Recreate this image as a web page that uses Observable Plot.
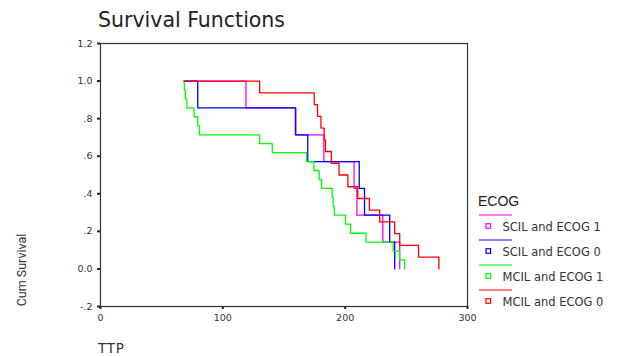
<!DOCTYPE html>
<html>
<head>
<meta charset="utf-8">
<script src="https://cdn.jsdelivr.net/npm/d3@7"></script>
<script src="https://cdn.jsdelivr.net/npm/@observablehq/plot@0.6"></script>
<style>
  html, body { margin: 0; padding: 0; background: #fff; }
  #chart { width: 618px; height: 356px; position: relative; }
</style>
</head>
<body>
<div id="chart"></div>
<script>
// ---- data ----
const seriesNames = ["SCIL and ECOG 1", "SCIL and ECOG 0", "MCIL and ECOG 1", "MCIL and ECOG 0"];
const seriesColors = ["#ff00ff", "#0000ff", "#00ff00", "#ff0000"];

const scil1Times = [68.3, 118.9, 159.2, 182.6, 207.3, 209.6, 230.8, 244.6];
const scil1Surv  = [1, 0.857, 0.714, 0.571, 0.429, 0.286, 0.143, 0];

const scil0Times = [68.3, 79.5, 159.6, 169.4, 211.5, 215.8, 236.4, 240.5];
const scil0Surv  = [1, 0.857, 0.714, 0.571, 0.429, 0.286, 0.143, 0];

const mcil1Times = [68.3, 68.5, 69.4, 70.6, 76.5, 79.5, 80.9, 130.1, 140.4, 168.4, 174.4, 178.7, 180.7, 189.4, 190.2, 191.1, 200.3, 204.4, 217.0, 239.2, 244.5, 248.6];
const mcil1Surv  = [1, 0.952, 0.905, 0.857, 0.810, 0.762, 0.714, 0.667, 0.619, 0.571, 0.524, 0.476, 0.429, 0.381, 0.333, 0.286, 0.238, 0.190, 0.143, 0.095, 0.048, 0];

const mcil0Times = [68.3, 130.1, 174.7, 177.4, 180.2, 182.8, 183.9, 188.7, 195.0, 202.2, 210.3, 219.8, 228.2, 240.5, 244.6, 260.0, 276.6];
const mcil0Surv  = [1, 0.9375, 0.875, 0.8125, 0.75, 0.6875, 0.625, 0.5625, 0.5, 0.4375, 0.375, 0.3125, 0.25, 0.1875, 0.125, 0.0625, 0];

const xTicks = [0, 100, 200, 300];
const yTicks = [-0.2, 0, 0.2, 0.4, 0.6, 0.8, 1.0, 1.2];
const yTickLabels = ["-.2", "0.0", ".2", ".4", ".6", ".8", "1.0", "1.2"];

const titleText = "Survival Functions";
const xLabel = "TTP";
const yLabel = "Cum Survival";
const legendTitle = "ECOG";

// ---- build table ----
const allTimes = [scil1Times, scil0Times, mcil1Times, mcil0Times];
const allSurv = [scil1Surv, scil0Surv, mcil1Surv, mcil0Surv];
const rows = seriesNames.flatMap((name, i) =>
  allTimes[i].map((t, j) => ({name, t, s: allSurv[i][j]}))
);

const W = 618, H = 356;
const chart = Plot.plot({
  width: W,
  height: H,
  marginLeft: 100,
  marginRight: 151,
  marginTop: 43,
  marginBottom: 50,
  style: {fontFamily: "DejaVu Sans", fontSize: "9.5px", color: "#333", background: "#fff"},
  x: {domain: [0, 300], label: null},
  y: {domain: [-0.2, 1.2], label: null},
  color: {domain: seriesNames, range: seriesColors},
  marks: [
    Plot.frame({stroke: "#333", strokeWidth: 1.2}),
    Plot.axisX({ticks: xTicks, tickSize: 3, tickPadding: 5, strokeWidth: 2, stroke: "#222", label: null, tickFormat: d => String(d)}),
    Plot.axisY({ticks: yTicks, tickSize: 3, tickPadding: 5, strokeWidth: 2, stroke: "#222", label: null,
      tickFormat: d => yTickLabels[yTicks.findIndex(v => Math.abs(v - d) < 1e-9)]}),
    Plot.line(rows, {x: "t", y: "s", z: "name", stroke: "name", curve: "step-after", strokeWidth: 1.3})
  ]
});
document.getElementById("chart").appendChild(chart);

// ---- titles & legend ----
const svg = d3.select(chart);
svg.append("text")
  .attr("x", 98).attr("y", 26.7)
  .attr("text-anchor", "start")
  .attr("font-family", "DejaVu Sans").attr("font-size", 20.5)
  .attr("fill", "#222").text(titleText);

svg.append("text")
  .attr("transform", "translate(25.5,270) rotate(-90)")
  .attr("text-anchor", "middle")
  .attr("font-family", "Roboto").attr("font-size", 12.5)
  .attr("fill", "#333").text(yLabel);

svg.append("text")
  .attr("x", 98).attr("y", 352.5)
  .attr("text-anchor", "start")
  .attr("font-family", "DejaVu Sans").attr("font-size", 13.5)
  .attr("letter-spacing", 0.8)
  .attr("fill", "#333").text(xLabel);

svg.append("text")
  .attr("x", 478).attr("y", 205.7)
  .attr("text-anchor", "start")
  .attr("font-family", "Liberation Sans").attr("font-size", 14)
  .attr("fill", "#222").text(legendTitle);

seriesNames.forEach((name, i) => {
  const ly = 215 + 25 * i;
  const sy = 226 + 25 * i;
  svg.append("line")
    .attr("x1", 479).attr("x2", 512).attr("y1", ly).attr("y2", ly)
    .attr("stroke", seriesColors[i]).attr("stroke-width", 1.2);
  svg.append("rect")
    .attr("x", 486).attr("y", sy - 2.3).attr("width", 4.6).attr("height", 4.6)
    .attr("fill", "none").attr("stroke", seriesColors[i]).attr("stroke-width", 1.2);
  svg.append("text")
    .attr("x", 502.5).attr("y", sy + 5.3)
    .attr("text-anchor", "start")
    .attr("font-family", "DejaVu Sans").attr("font-size", 11.5)
    .attr("fill", "#333").text(name);
});
</script>
</body>
</html>
